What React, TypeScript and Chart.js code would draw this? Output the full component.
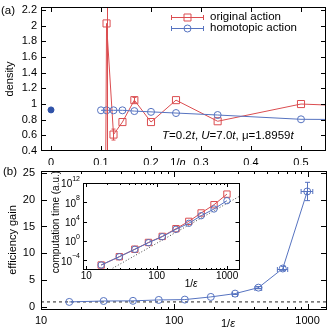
import React, { useEffect, useRef } from "react";
import { Chart, registerables } from "chart.js";
Chart.register(...registerables);

const FONT = "'Liberation Sans', Arial, Helvetica, sans-serif";
const RED = "#db4d50";
const BLUE = "#5673c0";
const DARK_BLUE = "#2f52a8";

// ---------- panel (a): density vs 1/n ----------
const invN = [0.1, 0.1111, 0.125, 0.1429, 0.1667, 0.2, 0.25, 0.3333, 0.5, 1.0];
const densityOriginal = [-10, 2.03, 0.61, 0.77, 1.05, 0.77, 1.05, 0.78, 1.0, 0.88];
const densityOriginalErr = [0, 2.0, 0.07, 0, 0.035, 0, 0, 0, 0, 0];
const densityHomotopic = [0.92, 0.92, 0.92, 0.92, 0.91, 0.9, 0.885, 0.86, 0.805, 0.79];
const exactInvN = [0];
const exactDensity = [0.925];
const xTicksA = [0, 0.1, 0.2, 0.3, 0.4, 0.5];
const xTickLabelsA = ["0", "0.1", "0.2", "0.3", "0.4", "0.5"];
const yTicksA = [0.4, 0.6, 0.8, 1, 1.2, 1.4, 1.6, 1.8, 2, 2.2];
const yTickLabelsA = ["0.4", "0.6", "0.8", "1", "1.2", "1.4", "1.6", "1.8", "2", "2.2"];

// ---------- panel (b): efficiency gain vs 1/eps ----------
const invEps = [16.3, 29.5, 49, 76.5, 120, 188, 286, 428, 652, 995];
const invEpsErr = [0, 0, 0, 0, 0, 0, 12, 25, 58, 100];
const gain = [1.0, 1.17, 1.2, 1.37, 1.43, 1.93, 2.54, 3.65, 7.2, 21.5];
const gainErr = [0, 0, 0, 0, 0, 0, 0, 0.2, 0.4, 1.7];
const baselineX = [10, 1400];
const baselineY = [1, 1];
const xTicksB = [10, 100, 1000];
const xTickLabelsB = ["10", "100", "1000"];
const yTicksB = [0, 5, 10, 15, 20, 25];
const yTickLabelsB = ["0", "5", "10", "15", "20", "25"];

// ---------- inset: computation time ----------
const timeOriginal = [1.07e-5, 5.6e-4, 2.0e-2, 0.5, 8.9, 355, 1.15e4, 6.3e5, 3.2e7, 5.0e9];
const timeHomotopic = [1.07e-5, 5.6e-4, 1.9e-2, 0.45, 7.8, 263, 4.6e3, 1.7e5, 4.2e6, 2.2e8];
const refX = [20, 1500];
const refY = [5.6e-7, 1.8e9];
const xTicksC = [10, 100, 1000];
const xTickLabelsC = ["10", "100", "1000"];
const yExpC = [-4, 0, 4, 8, 12];

function logMinors(lo: number, hi: number) {
  const out: number[] = [];
  for (let d = 1; d < 1e13; d *= 10) {
    for (let k = 2; k <= 9; k++) {
      const v = k * d;
      if (v > lo && v < hi) out.push(v);
    }
  }
  return out;
}

function pts(xs: number[], ys: number[]) {
  return xs.map((x, i) => ({ x, y: ys[i] }));
}

function rich(ctx: CanvasRenderingContext2D, parts: [string, boolean][], x: number, y: number, size: number, align: "left" | "center" | "right" = "left") {
  const ws = parts.map(([t, it]) => {
    ctx.font = `${it ? "italic " : ""}${size}px ${FONT}`;
    return ctx.measureText(t).width;
  });
  const total = ws.reduce((a, b) => a + b, 0);
  let cx = align === "center" ? x - total / 2 : align === "right" ? x - total : x;
  ctx.textAlign = "left";
  ctx.textBaseline = "middle";
  ctx.fillStyle = "#000";
  parts.forEach(([t, it], i) => {
    ctx.font = `${it ? "italic " : ""}${size}px ${FONT}`;
    ctx.fillText(t, cx, y);
    cx += ws[i];
  });
}

function vtext(ctx: CanvasRenderingContext2D, t: string, cx: number, cy: number, size: number) {
  ctx.save();
  ctx.translate(cx, cy);
  ctx.rotate(-Math.PI / 2);
  ctx.font = `${size}px ${FONT}`;
  ctx.textAlign = "center";
  ctx.textBaseline = "middle";
  ctx.fillStyle = "#000";
  ctx.fillText(t, 0, 0);
  ctx.restore();
}

function marker(ctx: CanvasRenderingContext2D, style: string, x: number, y: number, color: string) {
  ctx.save();
  ctx.strokeStyle = color;
  ctx.lineWidth = 1;
  ctx.beginPath();
  if (style === "rect") ctx.rect(x - 3.5, y - 3.5, 7, 7);
  else ctx.arc(x, y, 3.5, 0, Math.PI * 2);
  ctx.stroke();
  ctx.restore();
}

type FrameSpec = {
  xMajor: number[]; xMinor?: number[]; yMajor: number[]; yMinor?: number[];
  majorLen: number; minorLen: number; fill?: boolean;
  extra?: (ctx: CanvasRenderingContext2D, chart: any) => void;
};

function framePlugin(id: string, spec: FrameSpec) {
  return {
    id,
    beforeDatasetsDraw(chart: any) {
      if (!spec.fill) return;
      const { ctx, chartArea: a } = chart;
      ctx.save();
      ctx.fillStyle = "#fff";
      ctx.fillRect(a.left, a.top, a.right - a.left, a.bottom - a.top);
      ctx.restore();
    },
    afterDraw(chart: any) {
      const { ctx, chartArea: a } = chart;
      const xs = chart.scales.x, ys = chart.scales.y;
      ctx.save();
      ctx.strokeStyle = "#000";
      ctx.lineWidth = 1;
      ctx.beginPath();
      const xt = (list: number[], len: number) => {
        for (const v of list) {
          const p = Math.round(xs.getPixelForValue(v)) + 0.5;
          if (p < a.left || p > a.right) continue;
          ctx.moveTo(p, a.bottom); ctx.lineTo(p, a.bottom - len);
          ctx.moveTo(p, a.top); ctx.lineTo(p, a.top + len);
        }
      };
      const yt = (list: number[], len: number) => {
        for (const v of list) {
          const p = Math.round(ys.getPixelForValue(v)) + 0.5;
          if (p < a.top || p > a.bottom) continue;
          ctx.moveTo(a.left, p); ctx.lineTo(a.left + len, p);
          ctx.moveTo(a.right, p); ctx.lineTo(a.right - len, p);
        }
      };
      xt(spec.xMajor, spec.majorLen);
      if (spec.xMinor) xt(spec.xMinor, spec.minorLen);
      yt(spec.yMajor, spec.majorLen);
      if (spec.yMinor) yt(spec.yMinor, spec.minorLen);
      ctx.stroke();
      ctx.strokeRect(Math.round(a.left) + 0.5, Math.round(a.top) + 0.5, Math.round(a.right - a.left) - 1, Math.round(a.bottom - a.top) - 1);
      if (spec.extra) spec.extra(ctx, chart);
      ctx.restore();
    },
  };
}

type ErrSpec = { ds: number; xErr?: number[]; yErr?: number[]; color: string; cap: number };
function errorPlugin(id: string, items: ErrSpec[]) {
  return {
    id,
    afterDatasetsDraw(chart: any) {
      const { ctx, chartArea: a } = chart;
      const xs = chart.scales.x, ys = chart.scales.y;
      ctx.save();
      ctx.beginPath();
      ctx.rect(a.left, a.top, a.right - a.left, a.bottom - a.top);
      ctx.clip();
      for (const it of items) {
        const data = chart.data.datasets[it.ds].data as { x: number; y: number }[];
        ctx.strokeStyle = it.color;
        ctx.lineWidth = 1;
        ctx.beginPath();
        data.forEach((p, i) => {
          const px = Math.round(xs.getPixelForValue(p.x)) + 0.5;
          const py = Math.round(ys.getPixelForValue(p.y)) + 0.5;
          const ey = it.yErr ? it.yErr[i] : 0;
          if (ey > 0) {
            const y1 = ys.getPixelForValue(p.y - ey), y2 = ys.getPixelForValue(p.y + ey);
            ctx.moveTo(px, y1); ctx.lineTo(px, y2);
            ctx.moveTo(px - it.cap, y1); ctx.lineTo(px + it.cap, y1);
            ctx.moveTo(px - it.cap, y2); ctx.lineTo(px + it.cap, y2);
          }
          const ex = it.xErr ? it.xErr[i] : 0;
          if (ex > 0) {
            const x1 = xs.getPixelForValue(p.x - ex), x2 = xs.getPixelForValue(p.x + ex);
            ctx.moveTo(x1, py); ctx.lineTo(x2, py);
            ctx.moveTo(x1, py - it.cap); ctx.lineTo(x1, py + it.cap);
            ctx.moveTo(x2, py - it.cap); ctx.lineTo(x2, py + it.cap);
          }
        });
        ctx.stroke();
      }
      ctx.restore();
    },
  };
}

const tickFont = { family: FONT, size: 11 };

function axis(o: any) {
  const { type, min, max, ticks, labels, pad, size, vertical, showLabels = true, fontSize = 11 } = o;
  return {
    type, min, max,
    grid: { display: false, drawTicks: false },
    border: { display: false },
    ticks: {
      display: showLabels,
      font: { ...tickFont, size: fontSize },
      color: "#000",
      padding: pad,
      maxRotation: 0,
      minRotation: 0,
      autoSkip: false,
      callback: (_v: any, i: number) => labels[i],
    },
    afterBuildTicks: (s: any) => { s.ticks = ticks.map((v: number) => ({ value: v })); },
    afterFit: (s: any) => {
      if (vertical) s.width = size; else s.height = size;
      s.paddingTop = 0; s.paddingBottom = 0; s.paddingLeft = 0; s.paddingRight = 0;
    },
  };
}

function lineDs(data: any[], color: string, style: string, radius: number, extra: any = {}) {
  return {
    data,
    showLine: true,
    borderColor: color,
    borderWidth: 1,
    tension: 0,
    pointStyle: style,
    pointRadius: radius,
    pointBorderColor: color,
    pointBackgroundColor: "rgba(0,0,0,0)",
    pointBorderWidth: 1,
    ...extra,
  };
}

function baseOptions(padding: any, scales: any) {
  return {
    responsive: false,
    animation: false,
    devicePixelRatio: 1,
    events: [],
    layout: { padding },
    plugins: { legend: { display: false }, tooltip: { enabled: false } },
    scales,
  };
}

function configA() {
  return {
    type: "scatter",
    data: {
      datasets: [
        lineDs(pts(invN, densityHomotopic), BLUE, "circle", 3.5),
        lineDs(pts(invN, densityOriginal), RED, "rect", 5),
        {
          data: pts(exactInvN, exactDensity),
          showLine: false,
          pointStyle: "circle",
          pointRadius: 3,
          pointBackgroundColor: DARK_BLUE,
          pointBorderColor: DARK_BLUE,
        },
      ],
    },
    options: baseOptions({ top: 7, right: 3, left: 0, bottom: 0 }, {
      x: axis({ type: "linear", min: -0.02, max: 0.55, ticks: xTicksA, labels: xTickLabelsA, pad: 5, size: 14 }),
      y: axis({ type: "linear", min: 0.4, max: 2.24, ticks: yTicksA, labels: yTickLabelsA, pad: 4, size: 41, vertical: true }),
    }),
    plugins: [
      errorPlugin("errA", [{ ds: 1, yErr: densityOriginalErr, color: RED, cap: 2 }]),
      framePlugin("frameA", {
        xMajor: xTicksA, yMajor: yTicksA, majorLen: 5, minorLen: 3,
        extra: (ctx) => {
          rich(ctx, [["(a)", false]], 1, 11, 11.5);
          vtext(ctx, "density", 10, 79, 11);
          rich(ctx, [["1/", false], ["n", true]], 178, 163, 11, "center");
          rich(ctx, [["T", true], ["=0.2", false], ["t", true], [", ", false], ["U", true], ["=7.0", false], ["t", true], [", ", false], ["\u03bc", false], ["=1.8959", false], ["t", true]], 162, 136, 11.5);
          const rows: [number, string, string, string][] = [
            [17, RED, "rect", "original action"],
            [28, BLUE, "circle", "homotopic action"],
          ];
          for (const [y, c, st, t] of rows) {
            ctx.save();
            ctx.strokeStyle = c;
            ctx.lineWidth = 1;
            ctx.beginPath();
            ctx.moveTo(171, y + 0.5); ctx.lineTo(204, y + 0.5);
            ctx.moveTo(171.5, y - 2); ctx.lineTo(171.5, y + 3);
            ctx.moveTo(203.5, y - 2); ctx.lineTo(203.5, y + 3);
            ctx.stroke();
            ctx.restore();
            marker(ctx, st, 187.5, y + 0.5, c);
            rich(ctx, [[t, false]], 210, y, 11.5);
          }
        },
      }),
    ],
  };
}

function configB() {
  return {
    type: "scatter",
    data: {
      datasets: [
        lineDs(pts(invEps, gain), BLUE, "circle", 3.5),
        {
          data: pts(baselineX, baselineY),
          showLine: true,
          borderColor: "#222",
          borderWidth: 1,
          borderDash: [3, 3],
          pointRadius: 0,
        },
      ],
    },
    options: baseOptions({ top: 6, right: 5, left: 0, bottom: 0 }, {
      x: axis({ type: "logarithmic", min: 10, max: 1400, ticks: xTicksB, labels: xTickLabelsB, pad: 4, size: 22 }),
      y: axis({ type: "linear", min: -0.5, max: 25.3, ticks: yTicksB, labels: yTickLabelsB, pad: 6, size: 41, vertical: true }),
    }),
    plugins: [
      errorPlugin("errB", [{ ds: 0, yErr: gainErr, xErr: invEpsErr, color: BLUE, cap: 2.5 }]),
      framePlugin("frameB", {
        xMajor: xTicksB, xMinor: logMinors(10, 1400), yMajor: yTicksB, majorLen: 6, minorLen: 3,
        extra: (ctx) => {
          rich(ctx, [["(b)", false]], 3, 7, 11.5);
          vtext(ctx, "efficiency gain", 12.5, 75, 11);
          rich(ctx, [["1/", false], ["\u03b5", true]], 228, 158.5, 11, "center");
        },
      }),
    ],
  };
}

function configC() {
  return {
    type: "scatter",
    data: {
      datasets: [
        lineDs(pts(invEps, timeHomotopic), BLUE, "circle", 3.2),
        lineDs(pts(invEps, timeOriginal), RED, "rect", 4.5),
        {
          data: pts(refX, refY),
          showLine: true,
          borderColor: "#444",
          borderWidth: 1,
          borderDash: [1, 2],
          pointRadius: 0,
        },
      ],
    },
    options: baseOptions({ top: 15, right: 3, left: 0, bottom: 0 }, {
      x: axis({ type: "logarithmic", min: 9, max: 1500, ticks: xTicksC, labels: xTickLabelsC, pad: 0, size: 25, fontSize: 10 }),
      y: axis({ type: "logarithmic", min: 1e-6, max: 1e12, ticks: yExpC.map((e) => Math.pow(10, e)), labels: yExpC.map(String), pad: 0, size: 38, vertical: true, showLabels: false }),
    }),
    plugins: [
      framePlugin("frameC", {
        xMajor: xTicksC, xMinor: logMinors(9, 1500), yMajor: yExpC.map((e) => Math.pow(10, e)), majorLen: 4, minorLen: 2, fill: true,
        extra: (ctx, chart) => {
          const ys = chart.scales.y;
          const a = chart.chartArea;
          for (const e of yExpC) {
            const py = ys.getPixelForValue(Math.pow(10, e));
            ctx.font = `7px ${FONT}`;
            const sup = String(e).replace("-", "\u2212");
            const sw = ctx.measureText(sup).width;
            const right = a.left - 3;
            ctx.fillStyle = "#000";
            ctx.textBaseline = "middle";
            ctx.textAlign = "right";
            ctx.fillText(sup, right, py - 4);
            ctx.font = `10px ${FONT}`;
            ctx.fillText("10", right - sw, py + 1.5);
          }
          vtext(ctx, "computation time (a.u.)", 11, 54, 10);
          rich(ctx, [["1/", false], ["\u03b5", true]], 146, 116, 10, "center");
        },
      }),
    ],
  };
}

function ChartCanvas({ make, left, top, width, height }: { make: () => any; left: number; top: number; width: number; height: number }) {
  const ref = useRef<HTMLCanvasElement | null>(null);
  useEffect(() => {
    if (!ref.current) return;
    const chart = new Chart(ref.current, make());
    return () => chart.destroy();
  }, []);
  return (
    <canvas
      ref={ref}
      width={width}
      height={height}
      style={{ position: "absolute", left, top, width, height }}
    />
  );
}

export default function App() {
  return (
    <div style={{ position: "fixed", left: 0, top: 0, width: 332, height: 332, background: "#fff" }}>
      <ChartCanvas make={configA} left={0} top={0} width={332} height={165} />
      <ChartCanvas make={configB} left={0} top={165} width={332} height={167} />
      <ChartCanvas make={configC} left={45} top={168} width={200} height={127} />
    </div>
  );
}
